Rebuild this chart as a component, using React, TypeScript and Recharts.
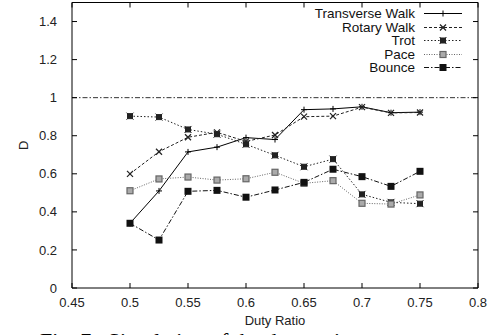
import React from "react";
import {
  LineChart, Line, XAxis, YAxis, ReferenceLine, Legend, Label,
} from "recharts";

const dutyRatio = [0.5, 0.525, 0.55, 0.575, 0.6, 0.625, 0.65, 0.675, 0.7, 0.725, 0.75];
const transverseWalk = [0.34, 0.51, 0.715, 0.74, 0.79, 0.78, 0.937, 0.941, 0.952, 0.921, 0.924];
const rotaryWalk = [0.6, 0.716, 0.792, 0.818, 0.77, 0.804, 0.9, 0.903, 0.95, 0.92, 0.922];
const trot = [0.903, 0.898, 0.833, 0.808, 0.755, 0.697, 0.637, 0.677, 0.492, 0.45, 0.443];
const pace = [0.511, 0.573, 0.583, 0.567, 0.574, 0.608, 0.55, 0.564, 0.445, 0.441, 0.489];
const bounce = [0.34, 0.252, 0.508, 0.513, 0.477, 0.515, 0.555, 0.624, 0.585, 0.534, 0.613];

const xTicks = [0.45, 0.5, 0.55, 0.6, 0.65, 0.7, 0.75, 0.8];
const yTicks = [0, 0.2, 0.4, 0.6, 0.8, 1, 1.2, 1.4];

const rows = dutyRatio.map((x, i) => ({
  x,
  transverse: transverseWalk[i],
  rotary: rotaryWalk[i],
  trot: trot[i],
  pace: pace[i],
  bounce: bounce[i],
}));

const FONT = "'Liberation Sans', Arial, sans-serif";
const W = 501;
const H = 335;
const M = { top: 2.5, right: 23, bottom: 0, left: 0 };
const X_AXIS_H = 47;
const Y_AXIS_W = 72;
const PLOT_TOP = M.top;
const PLOT_BOTTOM = H - M.bottom - X_AXIS_H;
const PLOT_LEFT = M.left + Y_AXIS_W;
const PLOT_RIGHT = W - M.right;
const TICK = 5;
const X_GAP = 10;
const Y_GAP = 15;

// gnuplot style: ticks point inward and are mirrored on the opposite side
const XTick = ({ x, y, payload }: any) => (
  <g>
    <line x1={x} y1={PLOT_BOTTOM} x2={x} y2={PLOT_BOTTOM - TICK} stroke="#000" />
    <line x1={x} y1={PLOT_TOP} x2={x} y2={PLOT_TOP + TICK} stroke="#000" />
    <text x={x} y={y} dy="0.71em" textAnchor="middle" fill="#222" fontSize={13} fontFamily={FONT}>
      {payload.value}
    </text>
  </g>
);
const YTick = ({ x, y, payload }: any) => (
  <g>
    <line x1={PLOT_LEFT} y1={y} x2={PLOT_LEFT + TICK} y2={y} stroke="#000" />
    <line x1={PLOT_RIGHT} y1={y} x2={PLOT_RIGHT - TICK} y2={y} stroke="#000" />
    <text x={x} y={y} dy="0.355em" textAnchor="end" fill="#222" fontSize={13} fontFamily={FONT}>
      {payload.value}
    </text>
  </g>
);

// gnuplot-ish point markers
const Plus = ({ cx, cy, color }: any) => (
  <g stroke={color} strokeWidth={1}>
    <line x1={cx - 3} y1={cy} x2={cx + 3} y2={cy} />
    <line x1={cx} y1={cy - 3} x2={cx} y2={cy + 3} />
  </g>
);
const Cross = ({ cx, cy, color }: any) => (
  <g stroke={color} strokeWidth={1.2}>
    <line x1={cx - 3} y1={cy - 3} x2={cx + 3} y2={cy + 3} />
    <line x1={cx - 3} y1={cy + 3} x2={cx + 3} y2={cy - 3} />
  </g>
);
const Star = ({ cx, cy, color }: any) => (
  <g stroke={color} strokeWidth={1}>
    <rect x={cx - 2.5} y={cy - 2.5} width={5} height={5} fill={color} />
    <line x1={cx - 3.5} y1={cy - 3.5} x2={cx + 3.5} y2={cy + 3.5} />
    <line x1={cx - 3.5} y1={cy + 3.5} x2={cx + 3.5} y2={cy - 3.5} />
  </g>
);
const OpenSquare = ({ cx, cy, color }: any) => (
  <rect x={cx - 3} y={cy - 3} width={6} height={6} fill="#aaa" stroke={color} strokeWidth={1.2} />
);
const FilledSquare = ({ cx, cy, color }: any) => (
  <rect x={cx - 3.5} y={cy - 3.5} width={7} height={7} fill={color} />
);

const series = [
  { key: "transverse", name: "Transverse Walk", color: "#000", dash: undefined, Mark: Plus },
  { key: "rotary", name: "Rotary Walk", color: "#222", dash: "3 2", Mark: Cross },
  { key: "trot", name: "Trot", color: "#222", dash: "1.5 2", Mark: Star },
  { key: "pace", name: "Pace", color: "#666", dash: "1 1.5", Mark: OpenSquare },
  { key: "bounce", name: "Bounce", color: "#111", dash: "5 2 1.5 2", Mark: FilledSquare },
];

const renderLegend = () => (
  <div style={{ fontFamily: FONT, fontSize: 13.5, color: "#111" }}>
    {series.map((s) => (
      <div key={s.key} style={{ display: "flex", alignItems: "center", height: 13.5 }}>
        <div style={{ width: 115, textAlign: "right", lineHeight: "13.5px" }}>{s.name}</div>
        <svg width={47} height={13} style={{ marginLeft: 9 }}>
          <line x1={0} y1={6.5} x2={38} y2={6.5} stroke={s.color} strokeWidth={1} strokeDasharray={s.dash} />
          <s.Mark cx={19} cy={6.5} color={s.color} />
        </svg>
      </div>
    ))}
  </div>
);

export default function App() {
  return (
    <div style={{ position: "absolute", left: 0, top: 0, width: W, height: H, background: "#fff", overflow: "hidden" }}>
      <LineChart width={W} height={H} data={rows} margin={M}>
        <XAxis
          dataKey="x"
          type="number"
          domain={[0.45, 0.8]}
          ticks={xTicks}
          height={X_AXIS_H}
          tickLine={false}
          tickSize={0}
          tickMargin={X_GAP}
          stroke="#000"
          tick={<XTick />}
        >
          <Label value="Duty Ratio" position="insideBottom" offset={10}
            style={{ fill: "#222", fontSize: 13, fontFamily: FONT }} />
        </XAxis>
        <YAxis
          type="number"
          domain={[0, 1.5]}
          ticks={yTicks}
          width={Y_AXIS_W}
          tickLine={false}
          tickSize={0}
          tickMargin={Y_GAP}
          stroke="#000"
          tick={<YTick />}
        >
          <Label
            content={({ viewBox }: any) => {
              const x = viewBox.x + 23;
              const y = viewBox.y + viewBox.height / 2;
              return (
                <text x={x} y={y} transform={`rotate(-90 ${x} ${y})`} textAnchor="middle"
                  dominantBaseline="central" fill="#222" fontSize={13} fontFamily={FONT}>D</text>
              );
            }}
          />
        </YAxis>
        {/* closing box: top and right border */}
        <ReferenceLine y={1.5} stroke="#000" />
        <ReferenceLine x={0.8} stroke="#000" />
        <ReferenceLine y={1} stroke="#333" strokeDasharray="5 2 1.5 2" />
        {series.map((s) => (
          <Line
            key={s.key}
            dataKey={s.key}
            name={s.name}
            type="linear"
            stroke={s.color}
            strokeWidth={1}
            strokeDasharray={s.dash}
            dot={(p: any) => <s.Mark key={`${s.key}-${p.index}`} cx={p.cx} cy={p.cy} color={s.color} />}
            activeDot={false}
            isAnimationActive={false}
          />
        ))}
        <Legend
          layout="vertical"
          align="center"
          verticalAlign="middle"
          content={renderLegend}
          wrapperStyle={{ top: 7, left: 300, width: 175 }}
        />
      </LineChart>
      <div style={{ position: "absolute", left: 40, top: 330, fontFamily: "'Liberation Serif', serif", fontSize: 22, lineHeight: 1, whiteSpace: "nowrap", color: "#000" }}>
        Fig. 7.&nbsp;&nbsp;Simulation of the duty ratio
      </div>
    </div>
  );
}
